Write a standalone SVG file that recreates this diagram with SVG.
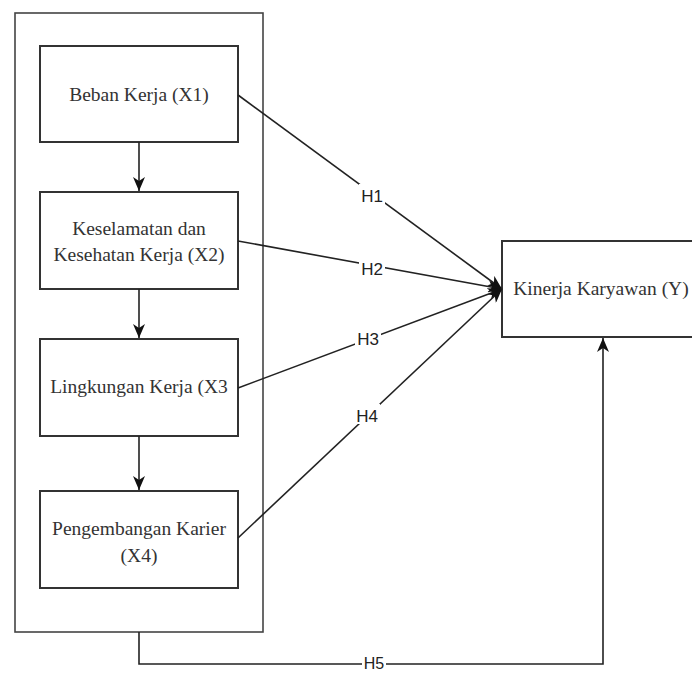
<svg xmlns="http://www.w3.org/2000/svg" width="692" height="673" viewBox="0 0 692 673">
<defs>
<style>
.box{fill:#fff;stroke:#333;stroke-width:2}
.outer{fill:#fff;stroke:#444;stroke-width:1.6}
.t{font-family:"Liberation Serif","Times New Roman",serif;font-size:19.5px;fill:#333;text-anchor:middle}
.lbl{font-family:"Liberation Sans",Arial,sans-serif;font-size:17px;fill:#222;text-anchor:middle}
.ln{fill:none;stroke:#222;stroke-width:1.6}
.bg{fill:#fff}
</style>
<marker id="arr" viewBox="0 0 14 12" refX="14" refY="6" markerWidth="14" markerHeight="12" markerUnits="userSpaceOnUse" orient="auto">
<path d="M0,0 L14,6 L0,12 L4,6 z" fill="#111"/>
</marker>
</defs>
<g id="container"><rect class="outer" x="15" y="13" width="248" height="619"/></g>
<g id="x1"><rect class="box" x="40" y="46" width="198" height="96"/><text class="t" x="139" y="101">Beban Kerja (X1)</text></g>
<g id="x2"><rect class="box" x="40" y="192" width="198" height="97"/><text class="t" x="139" y="235">Keselamatan dan</text><text class="t" x="139" y="261">Kesehatan Kerja (X2)</text></g>
<g id="x3"><rect class="box" x="40" y="339" width="198" height="97"/><text class="t" x="139" y="393">Lingkungan Kerja (X3</text></g>
<g id="x4"><rect class="box" x="40" y="491" width="198" height="97"/><text class="t" x="139" y="535">Pengembangan Karier</text><text class="t" x="139" y="562">(X4)</text></g>
<g id="y"><rect class="box" x="502" y="241" width="198" height="96"/><text class="t" x="601" y="295">Kinerja Karyawan (Y)</text></g>
<g id="connectors">
<path class="ln" d="M139,142 V191" marker-end="url(#arr)"/>
<path class="ln" d="M139,289 V338" marker-end="url(#arr)"/>
<path class="ln" d="M139,436 V490" marker-end="url(#arr)"/>
<path class="ln" d="M238,95 L502,289" marker-end="url(#arr)"/>
<path class="ln" d="M238,241 L502,289" marker-end="url(#arr)"/>
<path class="ln" d="M238,388 L502,289" marker-end="url(#arr)"/>
<path class="ln" d="M238,538 L502,289" marker-end="url(#arr)"/>
<path class="ln" d="M139,632 V664 H603 V338" marker-end="url(#arr)"/>
<rect class="bg" x="359" y="184" width="26" height="20"/><text class="lbl" x="372" y="202">H1</text>
<rect class="bg" x="359" y="258" width="26" height="20"/><text class="lbl" x="372" y="275">H2</text>
<rect class="bg" x="355" y="327" width="26" height="20"/><text class="lbl" x="368" y="345">H3</text>
<rect class="bg" x="354" y="404" width="26" height="20"/><text class="lbl" x="367" y="422">H4</text>
<rect class="bg" x="362" y="656" width="24" height="17"/><text class="lbl" x="374" y="669" style="font-size:16px">H5</text>
</g>
</svg>
